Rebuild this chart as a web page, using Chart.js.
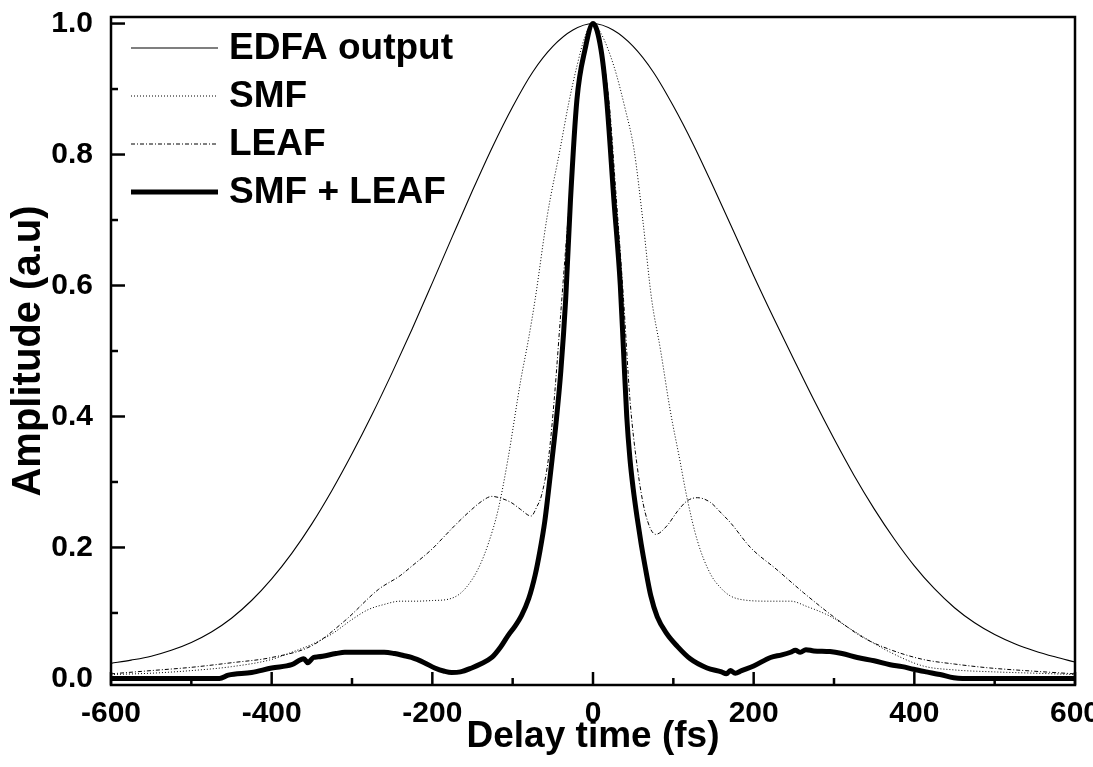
<!DOCTYPE html>
<html>
<head>
<meta charset="utf-8">
<script src="https://cdn.jsdelivr.net/npm/chart.js@4.4.1/dist/chart.umd.min.js"></script>
<style>
  html, body { margin: 0; padding: 0; background: #fff; }
  #wrap { width: 1093px; height: 767px; }
</style>
</head>
<body>
<div id="wrap"><canvas id="c" width="1093" height="767"></canvas></div>
<script>
// ---------- Data ----------
const seriesNames = ["EDFA output", "SMF", "LEAF", "SMF + LEAF"];

const xTicks = [-600, -400, -200, 0, 200, 400, 600];
const yTicks = [0.0, 0.2, 0.4, 0.6, 0.8, 1.0];

const edfaT = [-600,-575,-550,-525,-500,-475,-450,-425,-400,-375,-350,-325,-300,-275,-250,-225,-200,-175,-150,-125,-100,-75,-50,-25,
               0,25,50,75,100,125,150,175,200,225,250,275,300,325,350,375,400,425,450,475,500,525,550,575,600];
const edfaA = [0.023,0.028,0.034,0.043,0.055,0.071,0.092,0.119,0.152,0.191,0.236,0.287,0.343,0.403,0.467,0.534,0.604,0.675,0.745,0.812,0.873,0.926,0.965,0.990,
               1.000,0.990,0.965,0.926,0.874,0.815,0.750,0.683,0.615,0.550,0.487,0.425,0.366,0.310,0.259,0.213,0.172,0.137,0.108,0.085,0.067,0.053,0.042,0.033,0.025];

const smfT = [-600,-550,-500,-450,-400,-375,-350,-325,-300,-280,-260,-240,-220,-200,-180,-165,-150,-140,-130,-118,-106,-90,-80,-72,-57,-41,-30,-20,-10,
              0,10,26,40,51,62,73,84,96,108,117,130,146,160,171,187,220,246,266,295,320,341,370,411,450,500,550,600];
const smfA = [0.006,0.008,0.012,0.018,0.029,0.040,0.052,0.068,0.090,0.105,0.113,0.118,0.118,0.119,0.121,0.130,0.152,0.175,0.207,0.258,0.334,0.455,0.520,0.579,0.706,0.808,0.880,0.935,0.980,
              1.000,0.985,0.935,0.870,0.808,0.700,0.579,0.502,0.410,0.334,0.276,0.210,0.160,0.137,0.126,0.120,0.118,0.118,0.110,0.095,0.076,0.060,0.040,0.019,0.013,0.010,0.008,0.006];

const leafT = [-600,-550,-500,-450,-400,-350,-309,-267,-240,-226,-200,-185,-170,-151,-138,-126,-114,-101,-90,-77,-70,-64,-55,-48,-40,-30,-20,-10,
               0,10,20,28,38,46,55,65,78,92,105,117,130,146,160,171,196,229,262,304,337,370,411,450,494,550,600];
const leafA = [0.007,0.012,0.017,0.024,0.032,0.050,0.088,0.136,0.157,0.171,0.198,0.217,0.236,0.258,0.271,0.278,0.275,0.268,0.258,0.248,0.262,0.280,0.340,0.430,0.560,0.720,0.870,0.960,
               1.000,0.965,0.880,0.750,0.579,0.426,0.324,0.253,0.220,0.233,0.255,0.271,0.276,0.269,0.252,0.238,0.200,0.166,0.131,0.090,0.062,0.044,0.029,0.022,0.016,0.011,0.007];

const bothT = [-600,-465,-454,-425,-400,-375,-360,-355,-348,-342,-320,-309,-280,-260,-247,-236,-226,-210,-197,-185,-176,-165,-151,-140,-126,-115,-106,-97,-89,-80,-72,-66,-60,-56,-51,-46,-40,-34,-28,-20,-10,
               0,10,17,26,34,38,42,46,50,55,60,65,72,80,92,105,121,142,160,166,171,177,185,200,221,235,246,252,258,265,275,295,310,329,350,370,385,399,415,432,449,460,600];
const bothA = [0.000,0.000,0.005,0.009,0.016,0.021,0.030,0.024,0.032,0.033,0.038,0.040,0.040,0.040,0.038,0.035,0.032,0.024,0.016,0.011,0.009,0.010,0.016,0.022,0.032,0.048,0.065,0.080,0.096,0.122,0.158,0.195,0.240,0.280,0.334,0.390,0.470,0.579,0.731,0.884,0.960,
               1.000,0.960,0.884,0.731,0.600,0.500,0.400,0.335,0.290,0.245,0.205,0.170,0.126,0.094,0.068,0.049,0.030,0.016,0.010,0.007,0.012,0.008,0.012,0.019,0.032,0.036,0.040,0.043,0.040,0.044,0.042,0.041,0.038,0.032,0.027,0.021,0.018,0.014,0.010,0.006,0.001,0.000,0.000];

// ---------- Helpers ----------
const FONT = "'Liberation Sans', Arial, Helvetica, sans-serif";
function pts(t, a) { return t.map((v, i) => ({ x: v, y: a[i] })); }

const styles = [
  { width: 1.1, dash: [] },
  { width: 1, dash: [1, 2] },
  { width: 1, dash: [4, 2, 1, 2] },
  { width: 5, dash: [] }
];

const datasets = [
  [edfaT, edfaA], [smfT, smfA], [leafT, leafA], [bothT, bothA]
].map((d, i) => ({
  label: seriesNames[i],
  data: pts(d[0], d[1]),
  borderColor: '#000',
  backgroundColor: '#000',
  borderWidth: styles[i].width,
  borderDash: styles[i].dash,
  borderCapStyle: 'butt',
  borderJoinStyle: 'round',
  pointRadius: 0,
  cubicInterpolationMode: 'monotone',
  fill: false
}));

// Frame, inward ticks and in-plot legend
const framePlugin = {
  id: 'frame',
  afterDatasetsDraw(chart) {
    const { ctx, chartArea: ca, scales } = chart;
    const xs = scales.x, ys = scales.y;
    ctx.save();
    ctx.strokeStyle = '#000';
    ctx.lineWidth = 2.5;
    ctx.setLineDash([]);
    ctx.strokeRect(ca.left, ca.top, ca.right - ca.left, ca.bottom - ca.top);
    // x ticks (major every 200, minor every 100) pointing inward
    for (let v = -600; v <= 600; v += 100) {
      const px = xs.getPixelForValue(v);
      const major = (v % 200 === 0);
      const len = major ? 13 : 7;
      ctx.beginPath();
      ctx.moveTo(px, ca.bottom);
      ctx.lineTo(px, ca.bottom - len);
      ctx.stroke();
    }
    // y ticks (major every 0.2, minor every 0.1)
    for (let k = 0; k <= 10; k++) {
      const v = k / 10;
      const py = ys.getPixelForValue(v);
      const major = (k % 2 === 0);
      const len = major ? 14 : 7;
      ctx.beginPath();
      ctx.moveTo(ca.left, py);
      ctx.lineTo(ca.left + len, py);
      ctx.stroke();
    }
    // legend
    const rowY = [31, 79, 127, 175];
    ctx.font = 'bold 37px ' + FONT;
    ctx.textBaseline = 'middle';
    ctx.textAlign = 'left';
    ctx.fillStyle = '#000';
    chart.data.datasets.forEach((ds, i) => {
      const y = ca.top + rowY[i];
      ctx.beginPath();
      ctx.lineWidth = ds.borderWidth;
      ctx.setLineDash(ds.borderDash);
      ctx.moveTo(ca.left + 20, y);
      ctx.lineTo(ca.left + 107, y);
      ctx.stroke();
      ctx.setLineDash([]);
      ctx.fillText(ds.label, ca.left + 118, y + 1);
    });
    ctx.restore();
  }
};

new Chart(document.getElementById('c'), {
  type: 'line',
  data: { datasets },
  plugins: [framePlugin],
  options: {
    responsive: false,
    animation: false,
    devicePixelRatio: 1,
    layout: { padding: { top: 17, right: 18, left: 0, bottom: 0 } },
    plugins: { legend: { display: false }, tooltip: { enabled: false } },
    scales: {
      x: {
        type: 'linear',
        min: -600, max: 600,
        afterBuildTicks(s) { s.ticks = xTicks.map(v => ({ value: v })); },
        afterFit(s) { s.height = 82; s.paddingLeft = 0; s.paddingRight = 0; },
        grid: { display: false, drawTicks: false },
        border: { display: false },
        ticks: {
          color: '#000', padding: 11, maxRotation: 0, autoSkip: false,
          font: { family: FONT, size: 30, weight: 'bold' },
          callback: v => String(v)
        },
        title: {
          display: true, text: 'Delay time (fs)', color: '#000',
          font: { family: FONT, size: 37, weight: 'bold' },
          padding: { top: 0, bottom: 8 }
        }
      },
      y: {
        type: 'linear',
        min: -0.01, max: 1.01,
        afterBuildTicks(s) { s.ticks = yTicks.map(v => ({ value: v })); },
        afterFit(s) { s.width = 111; s.paddingTop = 0; s.paddingBottom = 0; },
        grid: { display: false, drawTicks: false },
        border: { display: false },
        ticks: {
          color: '#000', padding: 18, autoSkip: false,
          font: { family: FONT, size: 30, weight: 'bold' },
          callback: v => Number(v).toFixed(1)
        },
        title: {
          display: true, text: 'Amplitude (a.u)', color: '#000',
          font: { family: FONT, size: 40, weight: 'bold' },
          padding: { top: 5, bottom: 0 }
        }
      }
    }
  }
});
</script>
</body>
</html>
